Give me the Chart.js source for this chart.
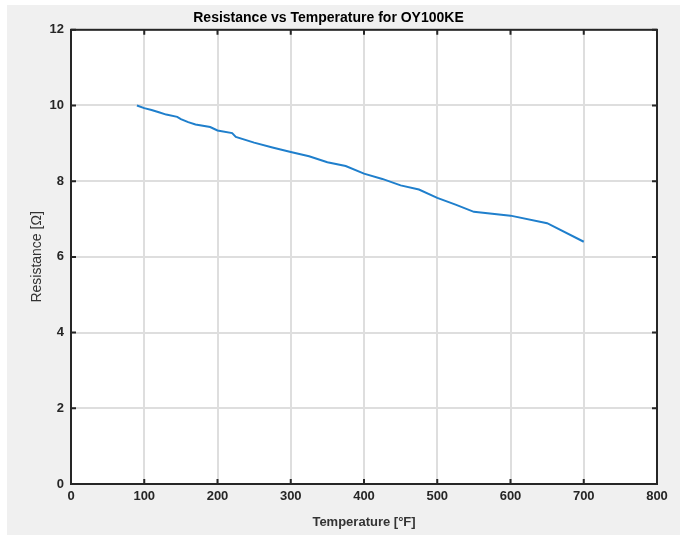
<!DOCTYPE html>
<html>
<head>
<meta charset="utf-8">
<script src="https://cdn.jsdelivr.net/npm/chart.js@4"></script>
<style>
  html, body { margin: 0; padding: 0; background: #fff; }
  #wrap { width: 688px; height: 536px; }
</style>
</head>
<body>
<div id="wrap"><canvas id="chart" width="688" height="536"></canvas></div>
<script>
// Resistance vs temperature
const TEMPS = [90, 100, 110, 120, 130, 145, 150, 160, 170, 190, 200, 220, 225, 250, 275,
  300, 325, 350, 375, 400, 425, 450, 475, 500, 525, 550, 600, 650, 700];
const RESIST = [10.0, 9.93, 9.88, 9.82, 9.76, 9.70, 9.64, 9.56, 9.50, 9.43, 9.34, 9.27, 9.17, 9.02, 8.89,
  8.77, 8.66, 8.50, 8.40, 8.20, 8.06, 7.89, 7.78, 7.56, 7.38, 7.19, 7.09, 6.89, 6.40];

const X_MIN = 0, X_MAX = 800, X_STEP = 100;
const Y_MIN = 0, Y_MAX = 12, Y_STEP = 2;

const INK = "#262626";
const PANEL = "#f0f0f0";
const LINE = "#1f7fcc";
const FONT = "'Liberation Sans', Arial, sans-serif";

// gray figure panel + white axes area
const backdrop = {
  id: "backdrop",
  beforeDraw(chart) {
    const { ctx, chartArea: a } = chart;
    ctx.save();
    ctx.fillStyle = PANEL;
    ctx.fillRect(7, 5, 673, 530);
    ctx.fillStyle = "#fff";
    ctx.fillRect(a.left, a.top, a.right - a.left, a.bottom - a.top);
    ctx.restore();
  }
};

// matlab style box with inward ticks on all sides
const axesBox = {
  id: "axesBox",
  afterDraw(chart) {
    const { ctx, chartArea: a, scales } = chart;
    const len = 5;
    ctx.save();
    ctx.strokeStyle = INK;
    ctx.lineWidth = 2;
    ctx.beginPath();
    scales.x.ticks.forEach(t => {
      const px = scales.x.getPixelForValue(t.value);
      ctx.moveTo(px, a.bottom); ctx.lineTo(px, a.bottom - len);
      ctx.moveTo(px, a.top); ctx.lineTo(px, a.top + len);
    });
    scales.y.ticks.forEach(t => {
      const py = scales.y.getPixelForValue(t.value);
      ctx.moveTo(a.left, py); ctx.lineTo(a.left + len, py);
      ctx.moveTo(a.right, py); ctx.lineTo(a.right - len, py);
    });
    ctx.stroke();
    ctx.strokeRect(a.left, a.top, a.right - a.left, a.bottom - a.top);
    ctx.restore();
  }
};

new Chart(document.getElementById("chart"), {
  type: "line",
  data: {
    datasets: [{
      data: TEMPS.map((t, i) => ({ x: t, y: RESIST[i] })),
      borderColor: LINE,
      borderWidth: 2,
      pointRadius: 0,
      tension: 0,
      fill: false,
    }]
  },
  options: {
    responsive: false,
    animation: false,
    layout: { padding: { left: 0, right: 31, top: 0, bottom: 0 } },
    plugins: {
      legend: { display: false },
      tooltip: { enabled: false },
      title: {
        display: true,
        text: "Resistance vs Temperature for OY100KE",
        color: "#000",
        font: { family: FONT, size: 14, weight: "bold" },
        padding: { top: 10, bottom: 3 },
      },
    },
    scales: {
      x: {
        type: "linear",
        min: X_MIN, max: X_MAX,
        afterFit: s => { s.height = 52; },
        ticks: { stepSize: X_STEP, color: INK, padding: 5, maxRotation: 0,
          font: { family: FONT, size: 13, weight: "bold" } },
        grid: { color: "#dedede", lineWidth: 2, drawTicks: false },
        border: { display: false },
        title: { display: true, text: "Temperature [°F]", color: "#333",
          font: { family: FONT, size: 13, weight: "bold" }, padding: { top: 0, bottom: 6 } },
      },
      y: {
        type: "linear",
        min: Y_MIN, max: Y_MAX,
        afterFit: s => { s.width = 71; },
        ticks: { stepSize: Y_STEP, color: INK, padding: 7,
          font: { family: FONT, size: 13, weight: "bold" } },
        grid: { color: "#dedede", lineWidth: 2, drawTicks: false },
        border: { display: false },
        title: { display: true, text: "Resistance [Ω]", color: "#333",
          font: { family: FONT, size: 14, weight: "normal" }, padding: { top: 29, bottom: 0 } },
      },
    },
  },
  plugins: [backdrop, axesBox],
});
</script>
</body>
</html>
